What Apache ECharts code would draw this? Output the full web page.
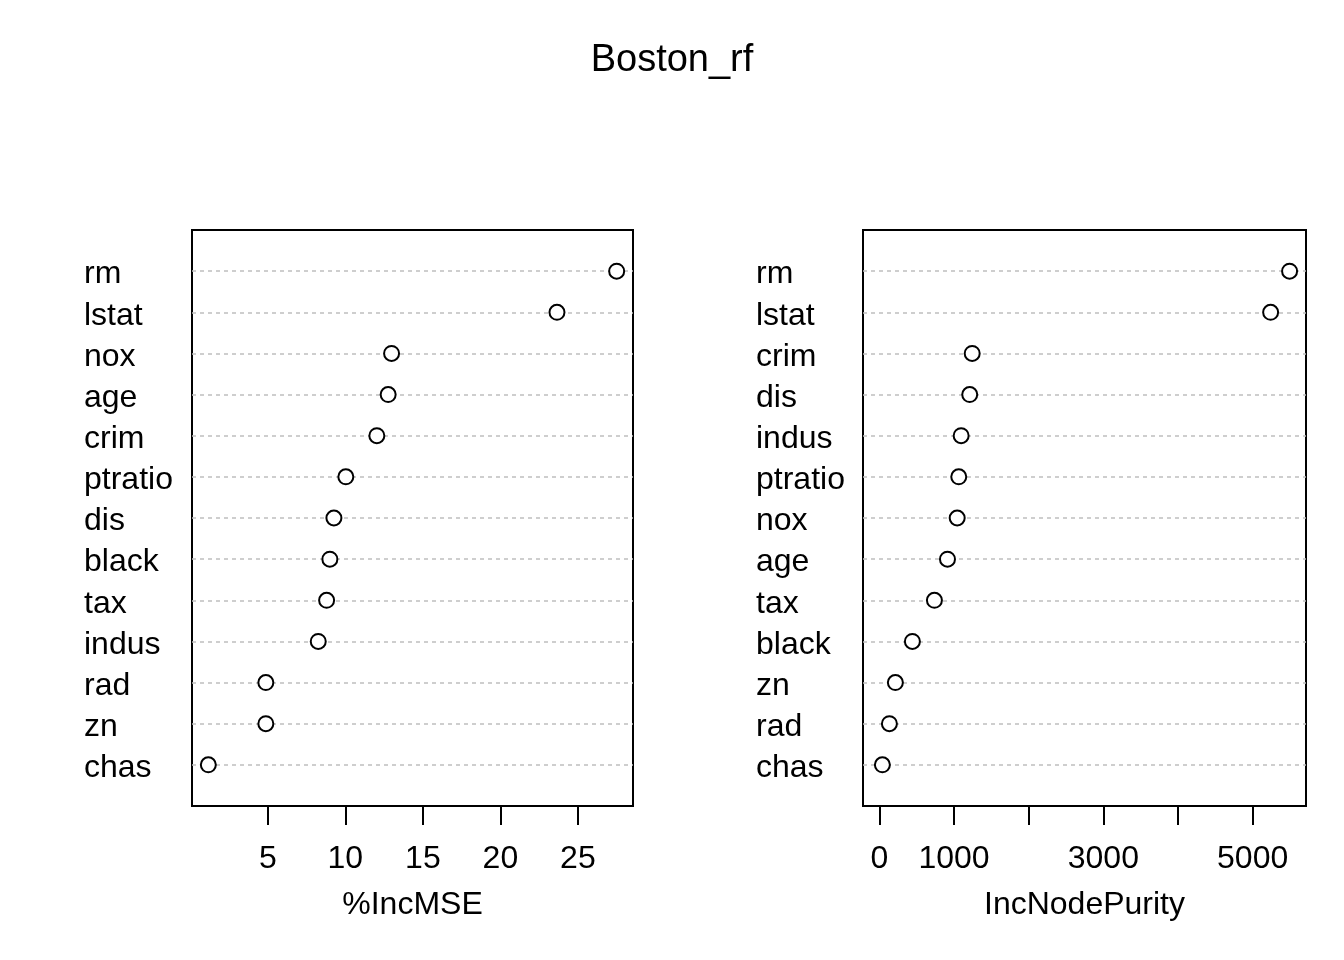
<!DOCTYPE html>
<html lang="en">
<head>
<meta charset="UTF-8" />
<title>Boston_rf</title>
<style>
  html, body { margin: 0; padding: 0; background: #fff; }
  #chart { width: 1344px; height: 960px; }
</style>
</head>
<body>
<div id="chart"></div>
<script src="https://cdn.jsdelivr.net/npm/echarts@6/dist/echarts.min.js"></script>
<script>
  // %IncMSE panel (top to bottom)
  const mseNames = ["rm", "lstat", "nox", "age", "crim", "ptratio", "dis", "black", "tax", "indus", "rad", "zn", "chas"];
  const mseValues = [27.5, 23.65, 12.98, 12.76, 12.03, 10.03, 9.26, 9.0, 8.79, 8.25, 4.87, 4.87, 1.16];
  const mseTicks = [5, 10, 15, 20, 25];

  // IncNodePurity panel (top to bottom)
  const purityNames = ["rm", "lstat", "crim", "dis", "indus", "ptratio", "nox", "age", "tax", "black", "zn", "rad", "chas"];
  const purityValues = [5495, 5241, 1243, 1210, 1095, 1063, 1042, 912, 737, 442, 214, 134, 40];
  const purityTicks = [0, 1000, 2000, 3000, 4000, 5000];
  const purityTickLabels = [0, 1000, 3000, 5000];

  const FONT = "Liberation Sans, Arial, Helvetica, sans-serif";

  // R dotchart pads the x range by 4% on each side
  function padded(lo, hi) {
    const r = hi - lo;
    return [lo - 0.04 * r, hi + 0.04 * r];
  }
  const mseRange = padded(Math.min(...mseValues), Math.max(...mseValues));
  const purityRange = padded(0, Math.max(...purityValues));

  function xAxisFor(idx, name, range, ticks, labels) {
    return {
      gridIndex: idx,
      type: 'value',
      min: range[0],
      max: range[1],
      name: name,
      nameLocation: 'middle',
      nameGap: 83,
      nameTextStyle: { fontSize: 32, color: '#000', fontFamily: FONT },
      axisLine: { show: false },
      axisTick: { show: true, length: 19, customValues: ticks, lineStyle: { color: '#000', width: 2 } },
      axisLabel: {
        customValues: labels, fontSize: 32, color: '#000', fontFamily: FONT, margin: 37,
        formatter: (v) => String(v)
      },
      splitLine: { show: false }
    };
  }

  function yAxisFor(idx, names, margin) {
    return {
      gridIndex: idx,
      type: 'category',
      inverse: true,
      boundaryGap: false,
      data: [''].concat(names, ['']),
      axisLine: { show: false },
      axisTick: { show: false },
      axisLabel: {
        interval: 0, align: 'left', margin: margin,
        formatter: (v) => v ? '{n|' + v + '}' : '',
        rich: {
          n: { fontSize: 32, color: '#000', fontFamily: FONT, padding: [7, 0, 0, 0] }
        }
      },
      splitLine: {
        show: true,
        interval: (i) => i > 0 && i <= names.length,
        lineStyle: { color: '#bebebe', type: [4, 4], width: 1.5 }
      }
    };
  }

  function dots(idx, names, values) {
    return {
      type: 'scatter',
      xAxisIndex: idx,
      yAxisIndex: idx,
      symbol: 'circle',
      symbolSize: 15,
      itemStyle: { color: '#fff', borderColor: '#000', borderWidth: 2, opacity: 1 },
      data: values.map((v, i) => [v, names[i]]),
      z: 5
    };
  }

  const chart = echarts.init(document.getElementById('chart'));
  chart.setOption({
    animation: false,
    backgroundColor: '#fff',
    title: {
      text: 'Boston_rf',
      left: 'center',
      top: 42,
      padding: 0,
      textStyle: { fontSize: 38, fontWeight: 'normal', color: '#000', fontFamily: FONT }
    },
    grid: [
      { left: 192, right: 711, top: 230, bottom: 154, show: true, borderColor: '#000', borderWidth: 2, containLabel: false },
      { left: 863, right: 38, top: 230, bottom: 154, show: true, borderColor: '#000', borderWidth: 2, containLabel: false }
    ],
    xAxis: [
      xAxisFor(0, '%IncMSE', mseRange, mseTicks, mseTicks),
      xAxisFor(1, 'IncNodePurity', purityRange, purityTicks, purityTickLabels)
    ],
    yAxis: [
      yAxisFor(0, mseNames, 108),
      yAxisFor(1, purityNames, 107)
    ],
    series: [
      dots(0, mseNames, mseValues),
      dots(1, purityNames, purityValues)
    ]
  });
</script>
</body>
</html>
